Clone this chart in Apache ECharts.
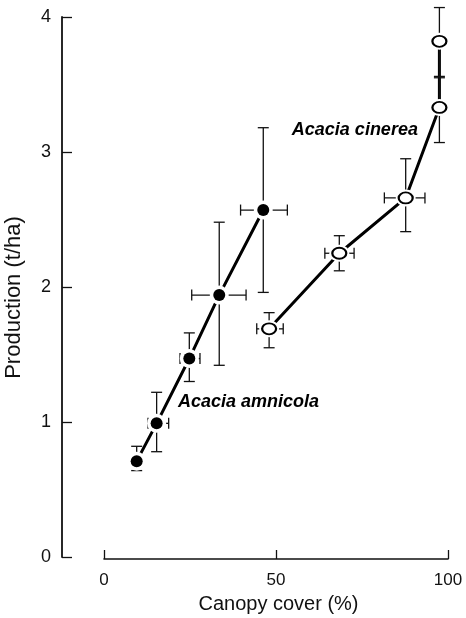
<!DOCTYPE html>
<html>
<head>
<meta charset="utf-8">
<script src="https://cdn.jsdelivr.net/npm/echarts@6/dist/echarts.min.js"></script>
<style>
html,body{margin:0;padding:0;background:#fff;}
#main{width:466px;height:618px;}
</style>
</head>
<body>
<div id="main"></div>
<script>
// Acacia amnicola (filled)
const amnX     = [9.5, 15.3, 24.8, 33.5, 46.3];
const amnY     = [0.71, 0.99, 1.47, 1.94, 2.57];
const amnXLow  = [9.5, 12.8, 22.1, 25.5, 39.7];
const amnXHigh = [9.5, 18.8, 27.9, 41.3, 53.3];
const amnYLow  = [0.64, 0.78, 1.30, 1.42, 1.96];
const amnYHigh = [0.82, 1.22, 1.66, 2.48, 3.18];

// Acacia cinerea (open)
const cinX     = [48.0, 68.4, 87.7, 97.5, 97.5];
const cinY     = [1.69, 2.25, 2.66, 3.33, 3.82];
const cinXLow  = [44.4, 64.2, 81.5, 97.5, 97.5];
const cinXHigh = [52.1, 72.7, 93.3, 97.5, 97.5];
const cinYLow  = [1.55, 2.12, 2.41, 3.07, 3.55];
const cinYHigh = [1.81, 2.38, 2.95, 3.56, 4.07];

const xTicks = [0, 50, 100];
const yTicks = [0, 1, 2, 3, 4];
const xTitle = 'Canopy cover (%)';
const yTitle = 'Production (t/ha)';
const annotations = [
  {name: 'Acacia amnicola', x: 21.5, y: 1.15},
  {name: 'Acacia cinerea', x: 54.6, y: 3.16}
];

const FONT = '"Liberation Sans", Arial, Helvetica, sans-serif';

function pairs(xs, ys){ return xs.map((x,i)=>[x, ys[i]]); }
function errData(xs, ys, xl, xh, yl, yh){
  return xs.map((x,i)=>[x, ys[i], xl[i], xh[i], yl[i], yh[i]]);
}
function renderErr(params, api){
  const x = api.value(0), y = api.value(1);
  const xl = api.value(2), xh = api.value(3), yl = api.value(4), yh = api.value(5);
  const c = api.coord([x, y]);
  const top = api.coord([x, yh]), bot = api.coord([x, yl]);
  const lft = api.coord([xl, y]), rgt = api.coord([xh, y]);
  const st = {stroke:'#111', lineWidth:1.3, fill:null};
  const cap = 5.5;
  const children = [];
  if (yh !== yl) {
    children.push({type:'line', shape:{x1:c[0], y1:top[1], x2:c[0], y2:bot[1]}, style:st});
    children.push({type:'line', shape:{x1:c[0]-cap, y1:top[1], x2:c[0]+cap, y2:top[1]}, style:st});
    children.push({type:'line', shape:{x1:c[0]-cap, y1:bot[1], x2:c[0]+cap, y2:bot[1]}, style:st});
  }
  if (xh !== xl) {
    children.push({type:'line', shape:{x1:lft[0], y1:c[1], x2:rgt[0], y2:c[1]}, style:st});
    children.push({type:'line', shape:{x1:lft[0], y1:c[1]-cap, x2:lft[0], y2:c[1]+cap}, style:st});
    children.push({type:'line', shape:{x1:rgt[0], y1:c[1]-cap, x2:rgt[0], y2:c[1]+cap}, style:st});
  }
  return {type:'group', children};
}

const chart = echarts.init(document.getElementById('main'), null, {renderer:'canvas'});

chart.setOption({
  animation: false,
  backgroundColor: '#fff',
  grid: {left:104, right:18, top:17, bottom:61, containLabel:false},
  xAxis: {
    type:'value', min:0, max:100, interval:50, offset:2,
    axisLine:{show:true, onZero:false, lineStyle:{color:'#111', width:1.6}},
    axisTick:{show:true, inside:true, length:9, lineStyle:{color:'#111', width:1.3}},
    axisLabel:{margin:13, color:'#111', fontFamily:FONT, fontSize:17,
      formatter: v => xTicks.includes(v) ? String(v) : ''},
    splitLine:{show:false}
  },
  yAxis: {
    type:'value', min:0, max:4, interval:1, offset:42,
    axisLine:{show:true, onZero:false, lineStyle:{color:'#111', width:1.8}},
    axisTick:{show:true, inside:true, length:10, lineStyle:{color:'#111', width:1.3}},
    axisLabel:{margin:11, color:'#111', fontFamily:FONT, fontSize:18,
      formatter: v => yTicks.includes(v) ? String(v) : ''},
    splitLine:{show:false}
  },
  graphic: [
    {type:'text', x:278.5, y:594,
      style:{text:xTitle, font:'20px ' + FONT, fill:'#111', textAlign:'center'}},
    {type:'text', rotation:Math.PI/2, x:3, y:297.5,
      style:{text:yTitle, font:'22px ' + FONT, fill:'#111', textAlign:'center', textVerticalAlign:'top'}}
  ],
  series: [
    {type:'line', data:pairs(amnX, amnY), symbol:'none', z:1,
      lineStyle:{color:'#000', width:3}},
    {type:'line', data:pairs(cinX, cinY), symbol:'none', z:1,
      lineStyle:{color:'#000', width:3}},
    {type:'custom', renderItem:renderErr, z:2,
      data:errData(amnX, amnY, amnXLow, amnXHigh, amnYLow, amnYHigh), encode:{x:0, y:1}},
    {type:'custom', renderItem:renderErr, z:2,
      data:errData(cinX, cinY, cinXLow, cinXHigh, cinYLow, cinYHigh), encode:{x:0, y:1}},
    {type:'scatter', data:pairs(amnX, amnY), symbol:'circle', symbolSize:19, z:3,
      itemStyle:{color:'#fff', opacity:1}},
    {type:'scatter', data:pairs(cinX, cinY), symbol:'circle', symbolSize:[20,17], z:3,
      itemStyle:{color:'#fff', opacity:1}},
    {type:'scatter', data:pairs(amnX, amnY), symbol:'circle', symbolSize:12, z:4,
      itemStyle:{color:'#000', opacity:1}},
    {type:'scatter', data:pairs(cinX, cinY), symbol:'circle', symbolSize:[14,11], z:4,
      itemStyle:{color:'#fff', borderColor:'#000', borderWidth:2, opacity:1}},
    {type:'scatter', symbolSize:0, z:5, silent:true,
      itemStyle:{opacity:1},
      data: annotations.map(a => ({name:a.name, value:[a.x, a.y]})),
      label:{show:true, position:'right', distance:0, formatter:'{b}',
        fontFamily:FONT, fontSize:18, fontStyle:'italic', fontWeight:'bold', color:'#000'}}
  ]
});
</script>
</body>
</html>
